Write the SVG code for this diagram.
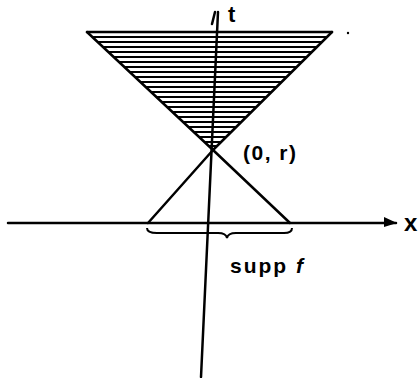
<svg xmlns="http://www.w3.org/2000/svg" width="418" height="378" viewBox="0 0 418 378">
<style>
.ln{stroke:#000;stroke-width:2.5;fill:none;stroke-linecap:round;stroke-linejoin:round}
.th{stroke:#000;stroke-width:2;fill:none}
.lb{font-family:"Liberation Sans",Arial,sans-serif;font-weight:bold;fill:#000}
</style>
<defs>
<clipPath id="cone"><polygon points="87,32 332,32 213,150"/></clipPath>
</defs>
<rect width="418" height="378" fill="#fff"/>
<g id="hatch" clip-path="url(#cone)">
<path class="th" d="M80,37H340M80,42H340M80,47H340M80,52H340M80,57H340M80,62H340M80,67H340M80,72H340M80,77H340M80,82H340M80,87H340M80,92H340M80,97H340M80,102H340M80,107H340M80,112H340M80,117H340M80,122H340M80,127H340M80,132H340M80,137H340M80,142H340M80,146H340"/>
</g>
<g id="connectors">
<path class="ln" d="M218,12 L201,377"/>
<path class="ln" d="M215,12 L212,24"/>
<path class="ln" d="M8,223 L396,223"/>
<path d="M384,217 L397,223 L384,227 Z" fill="#000"/>
<path class="ln" d="M87,32 L332,32"/>
<path class="ln" d="M87,32 L213,150 L332,32"/>
<path class="ln" d="M213,150 L148,223"/>
<path class="ln" d="M213,150 L290,223"/>
<path class="th" d="M147,228 Q147,233 157,233 L218,233 Q226,233 227,238 Q228,233 236,233 L284,233 Q292,233 292,228"/>
<circle cx="348" cy="33" r="1.2" fill="#000"/>
</g>
<g id="labels">
<text class="lb" x="228" y="22" font-size="22">t</text>
<text class="lb" x="243" y="160" font-size="21" letter-spacing="1.5">(0, r)</text>
<text class="lb" x="404" y="231" font-size="24">x</text>
<text class="lb" x="230" y="273" font-size="21" letter-spacing="2">supp <tspan font-style="italic">f</tspan></text>
</g>
</svg>
